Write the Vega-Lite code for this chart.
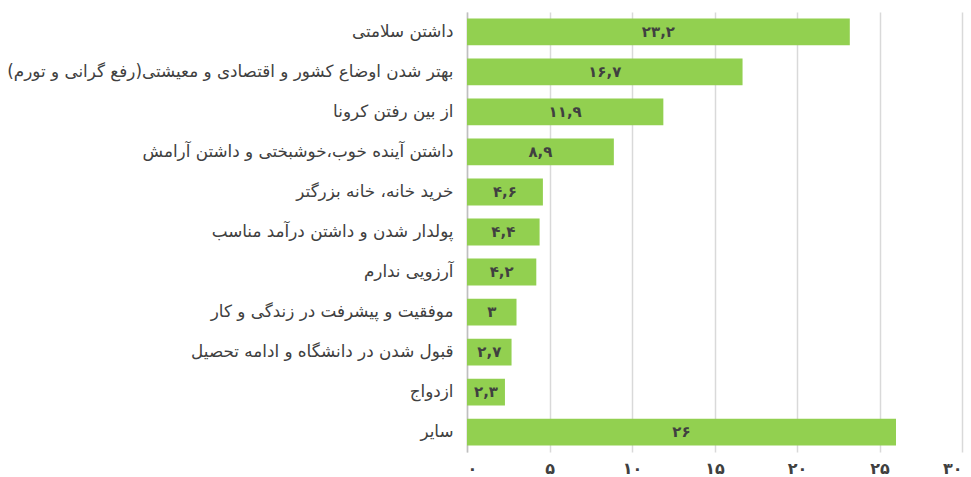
{
  "$schema": "https://vega.github.io/schema/vega-lite/v6.json",
  "autosize": "none",
  "width": 495,
  "height": 440,
  "padding": {"left": 467, "top": 12, "right": 9, "bottom": 25},
  "background": "white",
  "config": {"view": {"stroke": null}, "font": "DejaVu Sans"},
  "data": {"values": [
    {"wish": "داشتن سلامتی", "value": 23.2, "txt": "۲۳,۲"},
    {"wish": "بهتر شدن اوضاع  کشور و اقتصادی و معیشتی(رفع گرانی و تورم)", "value": 16.7, "txt": "۱۶,۷"},
    {"wish": "از بین رفتن کرونا", "value": 11.9, "txt": "۱۱,۹"},
    {"wish": "داشتن آینده خوب،خوشبختی و داشتن آرامش", "value": 8.9, "txt": "۸,۹"},
    {"wish": "خرید خانه، خانه بزرگتر", "value": 4.6, "txt": "۴,۶"},
    {"wish": "پولدار شدن و داشتن درآمد مناسب", "value": 4.4, "txt": "۴,۴"},
    {"wish": "آرزویی ندارم", "value": 4.2, "txt": "۴,۲"},
    {"wish": "موفقیت و پیشرفت در زندگی و کار", "value": 3, "txt": "۳"},
    {"wish": "قبول شدن در دانشگاه و ادامه تحصیل", "value": 2.7, "txt": "۲,۷"},
    {"wish": "ازدواج", "value": 2.3, "txt": "۲,۳"},
    {"wish": "سایر", "value": 26, "txt": "۲۶"}
  ]},
  "encoding": {
    "y": {
      "field": "wish", "type": "nominal", "sort": null, "title": null,
      "scale": {"paddingInner": 0.33, "paddingOuter": 0.16},
      "axis": {"ticks": false, "domain": true, "domainColor": "#bfbfbf", "domainWidth": 1.5, "labelFontSize": 16.8, "labelColor": "#404040", "labelPadding": 14, "labelLimit": 500}
    }
  },
  "layer": [
    {
      "mark": {"type": "bar", "color": "#92d050"},
      "encoding": {
        "x": {
          "field": "value", "type": "quantitative", "title": null,
          "scale": {"domain": [0, 30], "nice": false},
          "axis": {"values": [0, 5, 10, 15, 20, 25, 30], "ticks": false, "domain": false, "gridColor": "#d9d9d9", "gridWidth": 1.5, "labelFontSize": 16, "labelColor": "#404040", "labelPadding": 8, "labelFontWeight": "bold",
            "labelExpr": "replace(replace(replace(replace(replace(replace(datum.label,'0','۰'),'1','۱'),'2','۲'),'3','۳'),'5','۵'),'4','۴')"}
        }
      }
    },
    {
      "transform": [{"calculate": "datum.value / 2", "as": "mid"}],
      "mark": {"type": "text", "align": "center", "baseline": "middle", "fontSize": 15, "fontWeight": "bold", "color": "#404040"},
      "encoding": {
        "x": {"field": "mid", "type": "quantitative"},
        "text": {"field": "txt"}
      }
    }
  ]
}
